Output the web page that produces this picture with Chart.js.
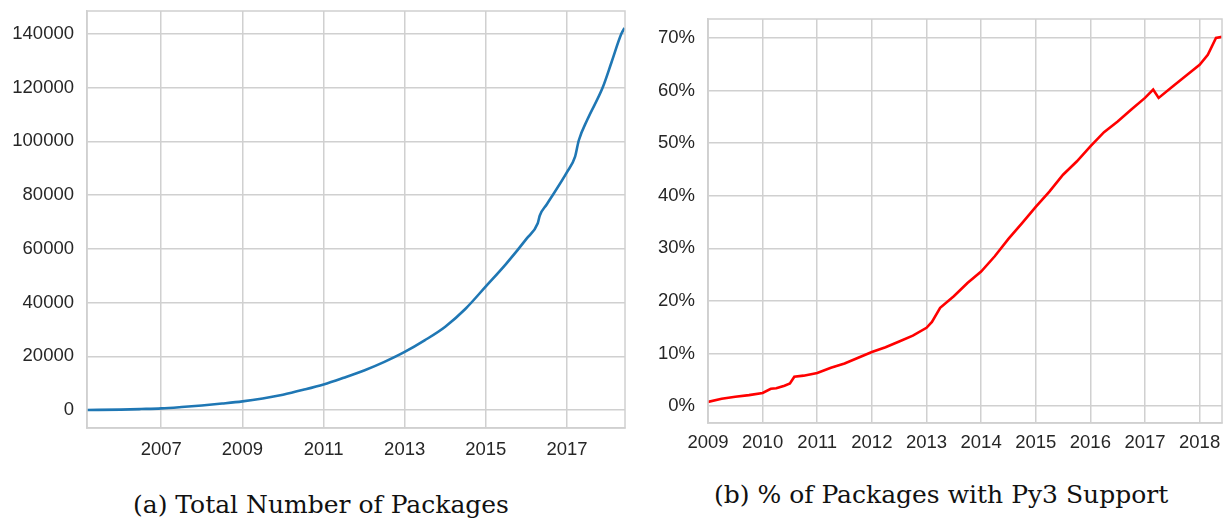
<!DOCTYPE html>
<html>
<head>
<meta charset="utf-8">
<script src="https://cdn.jsdelivr.net/npm/chart.js@4/dist/chart.umd.min.js"></script>
<style>
  body { margin: 0; background: #fff; width: 1223px; height: 521px; position: relative; overflow: hidden; }
  .box { position: absolute; top: 0; height: 470px; }
  .cap { position: absolute; font-family: "DejaVu Serif", serif; font-size: 25px; color: #111; white-space: nowrap; }
</style>
</head>
<body>
<div class="box" style="left:0;width:630px"><canvas id="total_chart"></canvas></div>
<div class="box" style="left:630px;width:593px"><canvas id="py3_chart"></canvas></div>
<div class="cap" id="cap_a" style="left:133px;top:490px">(a) Total Number of Packages</div>
<div class="cap" id="cap_b" style="left:714px;top:480px">(b) % of Packages with Py3 Support</div>
<script>
// total number of packages (decimal year, count)
var total_years = [2005.17, 2006, 2006.5, 2007, 2007.5, 2008, 2008.5, 2009, 2009.5, 2010, 2010.5,
  2011, 2011.5, 2012, 2012.5, 2013, 2013.5, 2014, 2014.5, 2015, 2015.5, 2016, 2016.28, 2016.33,
  2016.5, 2017, 2017.2, 2017.29, 2017.5, 2017.88, 2018.1, 2018.34, 2018.42];
var total_counts = [0, 150, 350, 600, 1100, 1700, 2400, 3200, 4300, 5700, 7500,
  9500, 12000, 14700, 17900, 21600, 26000, 31000, 37700, 46000, 54400, 63700, 69500, 72400,
  76500, 88500, 94300, 100300, 108000, 120000, 129500, 140000, 142200];

// share of packages with python 3 support (decimal year, percent)
var py3_years = [2009, 2009.25, 2009.5, 2009.75, 2010, 2010.15, 2010.25, 2010.4, 2010.5, 2010.58,
  2010.75, 2011, 2011.25, 2011.5, 2011.75, 2012, 2012.25, 2012.5, 2012.75, 2013, 2013.1, 2013.25,
  2013.5, 2013.75, 2014, 2014.25, 2014.5, 2014.75, 2015, 2015.25, 2015.5, 2015.75, 2016, 2016.25,
  2016.5, 2016.75, 2017, 2017.15, 2017.25, 2017.5, 2017.75, 2018, 2018.15, 2018.3, 2018.41];
var py3_pct = [0.8, 1.4, 1.8, 2.1, 2.5, 3.3, 3.4, 3.9, 4.3, 5.6,
  5.8, 6.3, 7.3, 8.1, 9.2, 10.3, 11.2, 12.3, 13.4, 14.9, 16.0, 18.7,
  20.9, 23.4, 25.6, 28.5, 31.8, 34.8, 37.9, 40.8, 44.0, 46.5, 49.4, 52.1,
  54.1, 56.4, 58.6, 60.2, 58.6, 60.7, 62.8, 64.9, 66.8, 70.0, 70.2];

var total_xticks = [2007, 2009, 2011, 2013, 2015, 2017];
var total_yticks = [0, 20000, 40000, 60000, 80000, 100000, 120000, 140000];
var py3_xticks = [2009, 2010, 2011, 2012, 2013, 2014, 2015, 2016, 2017, 2018];
var py3_yticks = [0, 10, 20, 30, 40, 50, 60, 70];

var gridColor = "#d0d0d0";
var tickFont = { family: "Liberation Sans, Arial, sans-serif", size: 18.5 };
var tickColor = "#262626";

// draws the light frame around the plot area, like seaborn whitegrid
var framePlugin = {
  id: "frame",
  afterDraw: function (chart) {
    var a = chart.chartArea;
    var ctx = chart.ctx;
    ctx.save();
    ctx.strokeStyle = gridColor;
    ctx.lineWidth = 1.5;
    ctx.strokeRect(a.left, a.top, a.right - a.left, a.bottom - a.top);
    ctx.restore();
  },
};

function makeChart(id, xs, ys, color, opts) {
  var points = [];
  for (var i = 0; i < xs.length; i++) points.push({ x: xs[i], y: ys[i] });
  var ctx = document.getElementById(id).getContext("2d");
  return new Chart(ctx, {
    type: "line",
    data: {
      datasets: [
        {
          data: points,
          borderColor: color,
          borderWidth: 2.6,
          pointRadius: 0,
          fill: false,
          tension: 0,
          cubicInterpolationMode: opts.smooth ? "monotone" : "default",
        },
      ],
    },
    plugins: [framePlugin],
    options: {
      responsive: true,
      maintainAspectRatio: false,
      animation: false,
      layout: { padding: opts.padding },
      plugins: { legend: { display: false }, tooltip: { enabled: false } },
      scales: {
        x: {
          type: "linear",
          min: opts.xmin,
          max: opts.xmax,
          afterBuildTicks: function (axis) {
            axis.ticks = opts.xticks.map(function (v) { return { value: v }; });
          },
          afterFit: function (axis) {
            axis.height = opts.xHeight;
            axis.paddingLeft = 0;
            axis.paddingRight = 0;
          },
          ticks: {
            font: tickFont,
            color: tickColor,
            padding: opts.xPad,
            maxRotation: 0,
            callback: function (v) { return String(v); },
          },
          grid: { color: gridColor, lineWidth: 1.5, drawTicks: false },
          border: { color: gridColor, width: 1.5 },
        },
        y: {
          type: "linear",
          min: opts.ymin,
          max: opts.ymax,
          afterBuildTicks: function (axis) {
            axis.ticks = opts.yticks.map(function (v) { return { value: v }; });
          },
          afterFit: function (axis) {
            axis.width = opts.yWidth;
            axis.paddingTop = 0;
            axis.paddingBottom = 0;
          },
          ticks: {
            font: tickFont,
            color: tickColor,
            padding: 13,
            callback: opts.yfmt,
          },
          grid: { color: gridColor, lineWidth: 1.5, drawTicks: false },
          border: { color: gridColor, width: 1.5 },
        },
      },
    },
  });
}

makeChart("total_chart", total_years, total_counts, "#1f77b4", {
  smooth: true,
  padding: { top: 11, right: 5, left: 0, bottom: 0 },
  xmin: 2005.17, xmax: 2018.43, xticks: total_xticks, xHeight: 42, xPad: 11,
  ymin: -6700, ymax: 148500, yticks: total_yticks, yWidth: 87,
  yfmt: function (v) { return String(v); },
});

makeChart("py3_chart", py3_years, py3_pct, "#ff0000", {
  smooth: false,
  padding: { top: 19, right: 1, left: 0, bottom: 0 },
  xmin: 2009, xmax: 2018.41, xticks: py3_xticks, xHeight: 47, xPad: 9,
  ymin: -3.2, ymax: 73.6, yticks: py3_yticks, yWidth: 78,
  yfmt: function (v) { return v + "%"; },
});
</script>
</body>
</html>
